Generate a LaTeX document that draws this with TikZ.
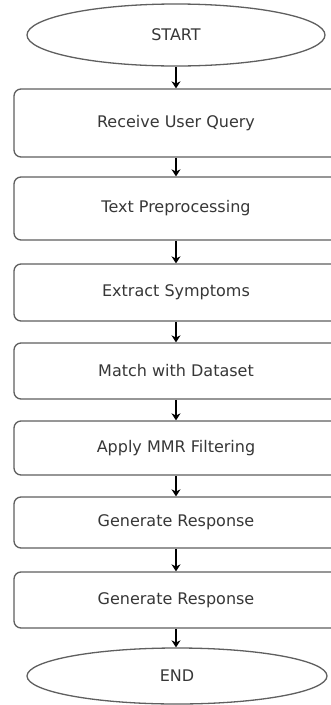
\documentclass[tikz,border=0pt]{standalone}
\usepackage{fontspec}
\setmainfont{DejaVu Sans}
\usepackage{tikz}
\usetikzlibrary{shapes}
\usetikzlibrary{shapes.geometric}
\usetikzlibrary{arrows.meta}
\pgfdeclarelayer{edgelayer}
\pgfdeclarelayer{nodelayer}
\pgfsetlayers{edgelayer,nodelayer,main}
\definecolor{boxline}{RGB}{95,95,95}
\definecolor{boxtext}{RGB}{55,55,55}
\tikzstyle{terminal}=[ellipse, draw=boxline, line width=1.3pt, fill=white, text=boxtext, inner sep=0pt, font=\fontsize{16}{19}\selectfont]
\tikzstyle{stepbox}=[rectangle, rounded corners=7pt, draw=boxline, line width=1.3pt, fill=white, text=boxtext, minimum width=324pt, inner sep=0pt, font=\fontsize{16}{19}\selectfont]
\tikzstyle{flow}=[draw=black, line width=1.1pt, -{Stealth[length=7pt,width=9pt]}]

\begin{document}
\begin{tikzpicture}[x=1pt,y=-1pt]
	\useasboundingbox (0, 0) rectangle (331, 705);
	\begin{pgfonlayer}{nodelayer}
		\node [style=terminal, minimum width=298pt, minimum height=62pt] (0) at (176, 35) {START};
		\node [style=stepbox, minimum height=68pt] (1) at (176, 123) {Receive User Query};
		\node [style=stepbox, minimum height=63pt] (2) at (176, 208.5) {Text Preprocessing};
		\node [style=stepbox, minimum height=57pt] (3) at (176, 292.5) {Extract Symptoms};
		\node [style=stepbox, minimum height=56pt] (4) at (176, 371) {Match with Dataset};
		\node [style=stepbox, minimum height=54pt] (5) at (176, 448) {Apply MMR Filtering};
		\node [style=stepbox, minimum height=51pt] (6) at (176, 522.5) {Generate Response};
		\node [style=stepbox, minimum height=56pt] (7) at (176, 600) {Generate Response};
		\node [style=terminal, minimum width=300pt, minimum height=56pt] (8) at (177, 676) {END};
	\end{pgfonlayer}
	\begin{pgfonlayer}{edgelayer}
		\draw [style=flow] (0.south) to (1.north);
		\draw [style=flow] (1.south) to (2.north);
		\draw [style=flow] (2.south) to (3.north);
		\draw [style=flow] (3.south) to (4.north);
		\draw [style=flow] (4.south) to (5.north);
		\draw [style=flow] (5.south) to (6.north);
		\draw [style=flow] (6.south) to (7.north);
		\draw [style=flow] (7.south) to ([xshift=-1pt]8.north);
	\end{pgfonlayer}
\end{tikzpicture}
\end{document}
